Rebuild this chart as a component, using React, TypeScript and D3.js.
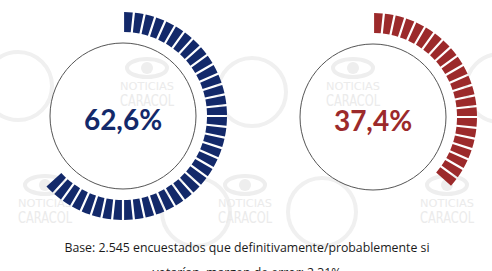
import { useEffect, useRef } from "react";
import * as d3 from "d3";

const labels = ["62,6%", "37,4%"];
const values = [62.6, 37.4];
const colors = ["#13296a", "#9c2a2b"];
const segmentCount = 60;
const footerLines = [
  "Base: 2.545 encuestados que definitivamente/probablemente si",
  "votarían, margen de error: 2,31%",
];

const W = 492;
const H = 271;

export default function App() {
  const svgRef = useRef<SVGSVGElement>(null);

  useEffect(() => {
    if (!svgRef.current) return;
    const svg = d3.select(svgRef.current);
    svg.selectAll("*").remove();

    svg.append("rect").attr("width", W).attr("height", H).attr("fill", "#fff");

    // faint background watermarks
    const wm = svg.append("g").attr("fill", "none").attr("stroke", "#f0f0f0").attr("stroke-width", 4);
    [[18, 86], [252, 92], [500, 88], [196, 212], [322, 212]].forEach(([x, y]) =>
      wm.append("circle").attr("cx", x).attr("cy", y).attr("r", 34),
    );
    const marks = [[147, 90], [353, 90], [45, 207], [245, 207], [447, 207]];
    const wt = svg.append("g").attr("fill", "#ebebeb").attr("text-anchor", "middle");
    marks.forEach(([x, y]) => {
      wt.append("ellipse").attr("cx", x).attr("cy", y - 22).attr("rx", 20).attr("ry", 9)
        .attr("fill", "none").attr("stroke", "#eeeeee").attr("stroke-width", 4);
      wt.append("circle").attr("cx", x).attr("cy", y - 22).attr("r", 6).attr("fill", "#eeeeee");
      wt.append("text").attr("x", x).attr("y", y).style("font-family", "'DejaVu Sans', sans-serif")
        .style("font-size", "10px").attr("textLength", 54).attr("lengthAdjust", "spacingAndGlyphs").text("NOTICIAS");
      wt.append("text").attr("x", x).attr("y", y + 16).style("font-family", "'DejaVu Sans', sans-serif")
        .style("font-size", "15px").attr("textLength", 54).attr("lengthAdjust", "spacingAndGlyphs").text("CARACOL");
    });

    const centers = [[123, 116], [373, 117]];
    const angle = d3.scaleLinear().domain([0, segmentCount]).range([0, 2 * Math.PI]);
    const inner = 84;
    const outer = 104;
    const arc = d3.arc<{ i: number }>()
      .innerRadius(inner)
      .outerRadius(outer)
      .startAngle((d) => angle(d.i))
      .endAngle((d) => angle(d.i + 1))
      .padAngle(2.2 / 94)
      .padRadius(94);

    values.forEach((v, k) => {
      const [cx, cy] = centers[k];
      const g = svg.append("g").attr("transform", `translate(${cx},${cy})`);
      g.append("circle").attr("r", 73).attr("fill", "none").attr("stroke", "#555").attr("stroke-width", 1);
      const n = Math.round((v / 100) * segmentCount);
      g.selectAll("path.seg")
        .data(d3.range(n).map((i) => ({ i })))
        .join("path")
        .attr("class", "seg")
        .attr("d", arc as any)
        .attr("fill", colors[k]);
      g.append("text")
        .attr("text-anchor", "middle")
        .attr("y", 14)
        .style("font-family", "Lato, sans-serif")
        .style("font-weight", "bold")
        .style("font-size", "28px")
        .attr("fill", colors[k])
        .text(labels[k]);
    });

    svg.selectAll("text.foot")
      .data(footerLines)
      .join("text")
      .attr("class", "foot")
      .attr("x", 247)
      .attr("y", (_, i) => 252 + i * 25)
      .attr("text-anchor", "middle")
      .style("font-family", "'Open Sans', sans-serif")
      .style("font-size", "12.3px")
      .attr("fill", "#1a1a1a")
      .text((d) => d);
  }, []);

  return (
    <svg ref={svgRef} width={W} height={H} style={{ position: "absolute", left: 0, top: 0 }} />
  );
}
